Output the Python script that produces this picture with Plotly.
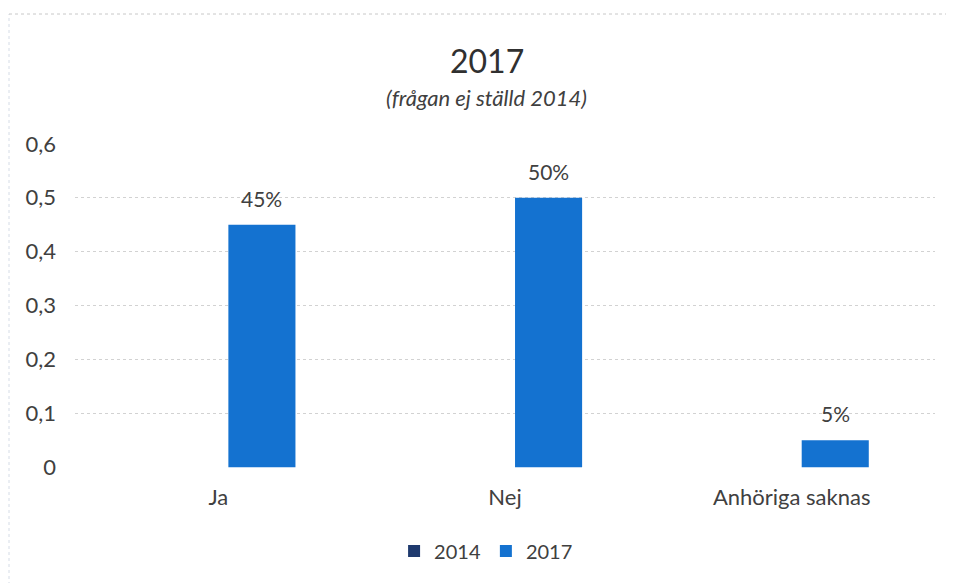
import plotly.graph_objects as go

categories = ["Ja", "Nej", "Anhöriga saknas"]
values_2014 = [None, None, None]
values_2017 = [0.45, 0.50, 0.05]
labels_2017 = ["45%", "50%", "5%"]
y_ticks = [0, 0.1, 0.2, 0.3, 0.4, 0.5, 0.6]

FONT = "Lato, Open Sans, sans-serif"
TXT = "#404040"
BAR_W = 0.234
BAR_OFF = 0.035

fig = go.Figure()
fig.add_trace(go.Bar(
    x=categories, y=values_2014, name="2014",
    marker=dict(color="#1F3A6E", line=dict(width=0)),
))
fig.add_trace(go.Bar(
    x=categories, y=values_2017, name="2017",
    marker=dict(color="#1472D0", line=dict(width=0)),
    width=BAR_W, offset=BAR_OFF,
))

annotations = [
    dict(text="2017", x=0.479, xref="paper", y=1, yref="paper", yanchor="bottom",
         yshift=61, showarrow=False, font=dict(size=32, color="#303030", family=FONT)),
    dict(text="<i>(frågan ej ställd 2014)</i>", x=0.479, xref="paper", y=1, yref="paper",
         yanchor="bottom", yshift=30, showarrow=False,
         font=dict(size=22, color=TXT, family=FONT)),
]
for i, (v, lab) in enumerate(zip(values_2017, labels_2017)):
    annotations.append(dict(
        text=lab, x=i + BAR_OFF + BAR_W / 2, xref="x", y=v, yref="y",
        yanchor="bottom", yshift=12, showarrow=False,
        font=dict(size=21, color=TXT, family=FONT)))

fig.update_layout(
    width=954, height=583,
    margin=dict(l=67, r=27, t=135, b=123),
    paper_bgcolor="white", plot_bgcolor="white",
    barmode="group",
    separators=", ",
    font=dict(family=FONT, size=21, color=TXT),
    showlegend=True,
    legend=dict(orientation="h", x=0.478, xanchor="center", y=-0.255, yanchor="middle",
                font=dict(size=20, color=TXT), traceorder="normal",
                itemwidth=30),
    xaxis=dict(showgrid=False, showline=False, ticks="", tickfont=dict(size=22, color=TXT),
               ticklabelstandoff=14),
    yaxis=dict(range=[-0.0015, 0.6015], tickvals=y_ticks, showgrid=True, gridcolor="#D2D2D2",
               griddash="dot", gridwidth=1, zeroline=False, showline=False,
               tickfont=dict(size=22, color=TXT), ticklabelstandoff=18),
    annotations=annotations,
)
# faint frame of the chart area (left and top edges)
fig.add_shape(type="line", xref="paper", yref="paper",
              x0=-66/860, x1=-66/860, y0=-123/325, y1=1 + 129/325,
              line=dict(color="#D5DCE6", width=1, dash="dot"))
fig.add_shape(type="line", xref="paper", yref="paper",
              x0=-66/860, x1=1 + 27/860, y0=1 + 129/325, y1=1 + 129/325,
              line=dict(color="#C8C8C8", width=1, dash="dot"))

fig.write_html("out.html")
